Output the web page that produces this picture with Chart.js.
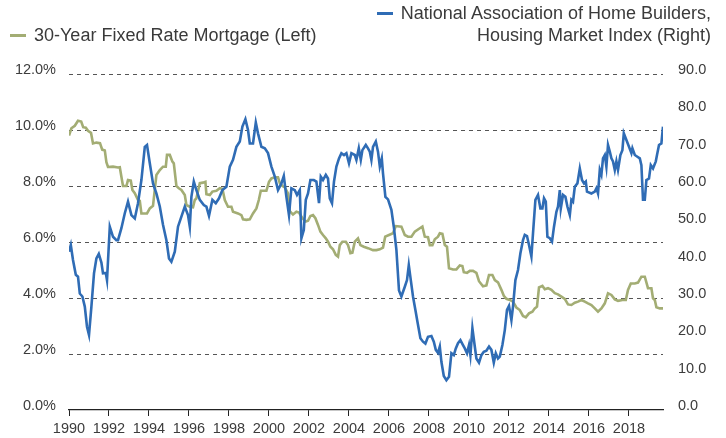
<!DOCTYPE html>
<html>
<head>
<meta charset="utf-8">
<script src="https://cdn.jsdelivr.net/npm/chart.js@4"></script>
<style>
  body { margin: 0; background: #fff; }
  #wrap { position: relative; width: 726px; height: 438px; font-family: "Liberation Sans", Arial, sans-serif; color: #3a3a3a; }
  #chart { position: absolute; left: 0; top: 0; }
  .leg { position: absolute; font-size: 18px; line-height: 22px; white-space: nowrap; }
  .mark { display: inline-block; width: 16px; height: 3px; vertical-align: middle; margin-right: 8px; position: relative; top: -1px; }
</style>
</head>
<body>
<div id="wrap">
  <canvas id="chart" width="726" height="438"></canvas>
  <div class="leg" style="left:10px; top:24px;"><span class="mark" style="background:#a3ad74"></span>30-Year Fixed Rate Mortgage (Left)</div>
  <div class="leg" style="right:15px; top:2px; text-align:right;"><span class="mark" style="background:#2f6cb5"></span>National Association of Home Builders,<br>Housing Market Index (Right)</div>
</div>
<script>
// Datos (años decimales)
const tickYears = [1990, 1992, 1994, 1996, 1998, 2000, 2002, 2004, 2006, 2008, 2010, 2012, 2014, 2016, 2018];

const hmiYears = [
  1990.00, 1990.09, 1990.20, 1990.34, 1990.45, 1990.54, 1990.67, 1990.79, 1990.90, 1991.00,
  1991.12, 1991.25, 1991.37, 1991.49, 1991.62, 1991.70, 1991.84, 1991.90, 1992.04, 1992.20,
  1992.37, 1992.45, 1992.62, 1992.79, 1992.95, 1993.12, 1993.29, 1993.45, 1993.62, 1993.79,
  1993.90, 1994.04, 1994.20, 1994.37, 1994.54, 1994.70, 1994.87, 1995.00, 1995.12, 1995.29,
  1995.45, 1995.62, 1995.79, 1995.95, 1996.04, 1996.12, 1996.24, 1996.37, 1996.54, 1996.74,
  1996.87, 1997.00, 1997.17, 1997.34, 1997.50, 1997.67, 1997.87, 1998.04, 1998.20, 1998.37,
  1998.54, 1998.67, 1998.82, 1998.95, 1999.04, 1999.20, 1999.34, 1999.45, 1999.62, 1999.79,
  1999.95, 2000.12, 2000.29, 2000.45, 2000.62, 2000.74, 2000.87, 2001.00, 2001.12, 2001.29,
  2001.40, 2001.54, 2001.62, 2001.74, 2001.84, 2001.95, 2002.07, 2002.24, 2002.37, 2002.50,
  2002.59, 2002.70, 2002.84, 2002.95, 2003.04, 2003.15, 2003.25, 2003.37, 2003.50, 2003.62,
  2003.75, 2003.87, 2004.00, 2004.12, 2004.29, 2004.37, 2004.49, 2004.59, 2004.67, 2004.84,
  2004.95, 2005.04, 2005.12, 2005.20, 2005.34, 2005.45, 2005.54, 2005.64, 2005.70, 2005.82,
  2005.95, 2006.12, 2006.24, 2006.37, 2006.50, 2006.62, 2006.79, 2006.90, 2006.99, 2007.09,
  2007.20, 2007.32, 2007.42, 2007.57, 2007.70, 2007.82, 2007.95, 2008.12, 2008.24, 2008.34,
  2008.45, 2008.54, 2008.62, 2008.74, 2008.87, 2009.00, 2009.12, 2009.24, 2009.34, 2009.45,
  2009.57, 2009.70, 2009.79, 2009.90, 2010.00, 2010.07, 2010.17, 2010.29, 2010.37, 2010.50,
  2010.62, 2010.74, 2010.87, 2011.00, 2011.12, 2011.24, 2011.34, 2011.45, 2011.54, 2011.67,
  2011.79, 2011.90, 2012.00, 2012.12, 2012.20, 2012.32, 2012.45, 2012.57, 2012.70, 2012.79,
  2012.90, 2013.00, 2013.12, 2013.20, 2013.32, 2013.45, 2013.57, 2013.67, 2013.75, 2013.84,
  2013.92, 2014.04, 2014.15, 2014.25, 2014.37, 2014.45, 2014.54, 2014.59, 2014.70, 2014.82,
  2014.92, 2015.04, 2015.12, 2015.20, 2015.29, 2015.42, 2015.54, 2015.65, 2015.75, 2015.84,
  2015.90, 2016.12, 2016.29, 2016.37, 2016.45, 2016.54, 2016.62, 2016.70, 2016.79, 2016.87,
  2016.95, 2017.04, 2017.12, 2017.20, 2017.29, 2017.37, 2017.45, 2017.57, 2017.67, 2017.74,
  2017.87, 2018.00, 2018.12, 2018.17, 2018.29, 2018.40, 2018.54, 2018.62, 2018.70, 2018.79,
  2018.87, 2019.00, 2019.09, 2019.20, 2019.34, 2019.40, 2019.50, 2019.62, 2019.70
];
const hmiValues = [
  42.4, 44.2, 40.2, 36.2, 35.7, 31.2, 30.4, 27.7, 22.3, 20.1,
  27.7, 36.6, 40.6, 41.8, 39.5, 36.6, 36.7, 34.8, 49.1, 46.4,
  45.5, 45.5, 48.7, 52.7, 55.8, 52.2, 51.3, 55.4, 61.6, 70.5,
  71.0, 66.1, 60.7, 58.0, 54.5, 49.6, 45.5, 40.6, 39.7, 42.4,
  49.1, 51.8, 54.5, 52.2, 49.1, 57.1, 61.2, 58.9, 56.3, 54.9,
  54.5, 52.0, 56.3, 55.4, 56.7, 58.9, 59.8, 65.2, 67.0, 70.5,
  71.9, 75.9, 77.9, 75.0, 71.4, 71.4, 77.0, 74.1, 70.5, 70.1,
  68.8, 65.2, 62.5, 58.9, 60.7, 62.7, 57.1, 52.2, 59.4, 58.9,
  57.6, 58.9, 46.0, 48.2, 56.3, 58.0, 61.6, 61.6, 61.2, 55.4,
  62.5, 61.6, 63.0, 62.0, 56.7, 55.4, 61.2, 65.2, 67.4, 68.8,
  68.3, 68.8, 66.1, 68.8, 68.3, 67.0, 70.1, 67.0, 69.6, 71.0,
  70.1, 69.2, 67.0, 70.5, 71.9, 69.2, 65.2, 67.4, 63.4, 57.1,
  56.4, 53.6, 49.1, 42.9, 32.0, 30.4, 33.0, 34.8, 38.8, 34.8,
  30.4, 26.8, 23.7, 19.2, 18.3, 17.8, 19.6, 19.8, 18.3, 16.1,
  15.3, 17.0, 12.9, 9.1, 8.0, 8.9, 15.2, 14.7, 16.5, 17.9,
  18.7, 17.4, 16.5, 15.2, 17.4, 14.7, 21.9, 17.0, 13.8, 12.7,
  14.7, 15.6, 15.9, 17.0, 16.1, 12.7, 15.2, 13.8, 14.3, 17.4,
  21.4, 26.8, 27.9, 24.1, 27.7, 34.8, 37.5, 42.0, 45.5, 46.9,
  46.6, 44.2, 41.1, 47.3, 56.3, 57.6, 54.0, 54.0, 56.7, 55.8,
  46.4, 46.0, 45.1, 49.1, 53.1, 54.5, 58.9, 54.0, 57.6, 57.1,
  54.5, 52.2, 56.3, 55.8, 59.8, 60.7, 64.7, 61.6, 60.7, 61.2,
  58.5, 58.0, 58.5, 59.4, 58.0, 64.3, 63.0, 67.4, 68.3, 65.2,
  71.0, 69.2, 67.4, 66.6, 64.3, 66.6, 64.3, 68.3, 69.6, 74.1,
  72.3, 70.5, 68.8, 70.1, 68.3, 67.9, 67.4, 65.6, 56.3, 56.3,
  61.6, 62.0, 65.6, 64.7, 66.6, 68.3, 71.0, 71.4, 75.9
];

const mortgageYears = [
  1990.00, 1990.12, 1990.29, 1990.45, 1990.61, 1990.71, 1990.84, 1990.95, 1991.10, 1991.20,
  1991.37, 1991.55, 1991.66, 1991.79, 1991.87, 1991.95, 1992.20, 1992.45, 1992.54, 1992.62,
  1992.70, 1992.87, 1992.95, 1993.09, 1993.17, 1993.29, 1993.45, 1993.54, 1993.62, 1993.90,
  1994.04, 1994.20, 1994.37, 1994.54, 1994.70, 1994.84, 1994.90, 1995.04, 1995.17, 1995.24,
  1995.37, 1995.49, 1995.62, 1995.79, 1995.87, 1996.04, 1996.20, 1996.29, 1996.37, 1996.54,
  1996.70, 1996.82, 1996.87, 1997.04, 1997.17, 1997.37, 1997.54, 1997.67, 1997.79, 1997.95,
  1998.12, 1998.20, 1998.45, 1998.62, 1998.70, 1998.87, 1999.04, 1999.20, 1999.37, 1999.49,
  1999.59, 1999.87, 2000.00, 2000.12, 2000.29, 2000.45, 2000.54, 2000.67, 2000.79, 2000.95,
  2001.04, 2001.20, 2001.37, 2001.50, 2001.67, 2001.84, 2001.95, 2002.07, 2002.20, 2002.32,
  2002.45, 2002.57, 2002.70, 2002.84, 2002.95, 2003.07, 2003.20, 2003.34, 2003.45, 2003.54,
  2003.67, 2003.84, 2003.95, 2004.07, 2004.17, 2004.29, 2004.45, 2004.57, 2004.74, 2004.95,
  2005.20, 2005.37, 2005.54, 2005.70, 2005.81, 2006.00, 2006.20, 2006.34, 2006.62, 2006.79,
  2006.95, 2007.12, 2007.29, 2007.54, 2007.67, 2007.79, 2007.95, 2008.04, 2008.17, 2008.29,
  2008.45, 2008.54, 2008.67, 2008.79, 2008.90, 2009.00, 2009.20, 2009.37, 2009.54, 2009.67,
  2009.74, 2009.90, 2010.04, 2010.20, 2010.37, 2010.50, 2010.70, 2010.87, 2011.00, 2011.17,
  2011.29, 2011.45, 2011.62, 2011.74, 2011.87, 2012.04, 2012.20, 2012.37, 2012.54, 2012.70,
  2012.84, 2013.00, 2013.17, 2013.29, 2013.40, 2013.50, 2013.67, 2013.79, 2013.95, 2014.12,
  2014.29, 2014.45, 2014.62, 2014.79, 2014.95, 2015.12, 2015.29, 2015.45, 2015.62, 2015.79,
  2015.95, 2016.12, 2016.29, 2016.45, 2016.62, 2016.79, 2016.95, 2017.12, 2017.29, 2017.45,
  2017.67, 2017.84, 2017.95, 2018.09, 2018.29, 2018.45, 2018.62, 2018.79, 2018.95, 2019.12,
  2019.20, 2019.29, 2019.37, 2019.54, 2019.70
];
const mortgageRates = [
  9.80, 10.06, 10.15, 10.33, 10.30, 10.10, 10.08, 9.97, 9.90, 9.52,
  9.55, 9.53, 9.30, 9.27, 8.85, 8.68, 8.69, 8.66, 8.67, 8.33,
  8.00, 8.00, 8.21, 8.19, 7.86, 7.74, 7.50, 7.47, 7.02, 7.02,
  7.20, 7.29, 8.39, 8.57, 8.69, 8.69, 9.11, 9.11, 8.87, 8.81,
  8.00, 7.92, 7.86, 7.68, 7.32, 7.26, 7.24, 7.50, 7.56, 8.10,
  8.12, 8.15, 7.71, 7.68, 7.80, 7.83, 7.92, 7.90, 7.50, 7.26,
  7.26, 7.08, 7.02, 6.96, 6.81, 6.79, 6.81, 7.02, 7.20, 7.50,
  7.83, 7.83, 8.15, 8.27, 8.31, 8.31, 8.10, 8.00, 7.95, 7.74,
  7.10, 6.98, 7.08, 7.05, 6.85, 6.73, 6.76, 6.93, 6.96, 6.85,
  6.61, 6.37, 6.25, 6.13, 6.01, 5.83, 5.74, 5.54, 5.48, 5.89,
  6.01, 6.01, 5.89, 5.60, 5.62, 6.01, 6.13, 5.89, 5.83, 5.78,
  5.71, 5.71, 5.74, 5.80, 6.19, 6.25, 6.31, 6.57, 6.55, 6.25,
  6.19, 6.19, 6.37, 6.49, 6.55, 6.19, 6.17, 5.89, 5.89, 6.10,
  6.19, 6.31, 6.29, 5.89, 5.83, 5.06, 5.02, 5.02, 5.16, 5.14,
  4.92, 4.90, 4.97, 4.97, 4.90, 4.60, 4.42, 4.45, 4.82, 4.82,
  4.64, 4.56, 4.29, 4.08, 3.97, 3.93, 3.87, 3.66, 3.57, 3.36,
  3.31, 3.45, 3.51, 3.63, 3.69, 4.38, 4.43, 4.31, 4.35, 4.29,
  4.17, 4.13, 4.05, 3.97, 3.77, 3.75, 3.83, 3.87, 3.93, 3.87,
  3.81, 3.75, 3.63, 3.51, 3.63, 3.81, 4.17, 4.11, 3.95, 3.90,
  3.93, 3.93, 4.29, 4.52, 4.52, 4.55, 4.76, 4.76, 4.35, 4.35,
  3.99, 3.93, 3.67, 3.63, 3.63
];

Chart.defaults.font.family = '"Liberation Sans", Arial, sans-serif';
Chart.defaults.font.size = 14.5;
Chart.defaults.color = '#3c3c3c';

const ctx = document.getElementById('chart').getContext('2d');
const chart = new Chart(ctx, {
    type: 'line',
    data: {
        datasets: [{
            label: 'National Association of Home Builders, Housing Market Index (Right)',
            data: hmiYears.map((x, i) => ({ x: x, y: hmiValues[i] })),
            yAxisID: 'right',
            borderColor: '#2f6cb5',
            borderWidth: 2.6,
            pointRadius: 0,
            fill: false
        }, {
            label: '30-Year Fixed Rate Mortgage (Left)',
            data: mortgageYears.map((x, i) => ({ x: x, y: mortgageRates[i] })),
            yAxisID: 'left',
            borderColor: '#a3ad74',
            borderWidth: 2.6,
            pointRadius: 0,
            fill: false
        }]
    },
    options: {
        responsive: false,
        animation: false,
        layout: { padding: { top: 74, left: 0, right: 0, bottom: 0 } },
        plugins: {
            legend: { display: false },
            tooltip: { enabled: false }
        },
        scales: {
            x: {
                type: 'linear',
                min: 1990,
                max: 2019.7,
                afterBuildTicks: axis => { axis.ticks = tickYears.map(v => ({ value: v })); },
                afterFit: axis => { axis.height = 28; },
                grid: { drawOnChartArea: false, drawTicks: true, tickLength: 6, color: '#222' },
                border: { display: true, color: '#222', width: 1.2 },
                ticks: { padding: 4, maxRotation: 0, autoSkip: false, callback: v => String(v) }
            },
            left: {
                position: 'left',
                min: 0,
                max: 12,
                afterFit: axis => { axis.width = 69; },
                grid: {
                    drawTicks: false,
                    color: c => c.tick.value === 0 ? 'rgba(0,0,0,0)' : '#555'
                },
                border: { display: false, dash: [4, 4] },
                ticks: { stepSize: 2, padding: 13, labelOffset: -4, callback: v => v.toFixed(1) + '%' }
            },
            right: {
                position: 'right',
                min: 0,
                max: 90,
                afterFit: axis => { axis.width = 63; },
                grid: { drawOnChartArea: false, drawTicks: false },
                border: { display: false },
                ticks: { stepSize: 10, padding: 15, labelOffset: -4, callback: v => v.toFixed(1) }
            }
        }
    }
});
</script>
</body>
</html>
